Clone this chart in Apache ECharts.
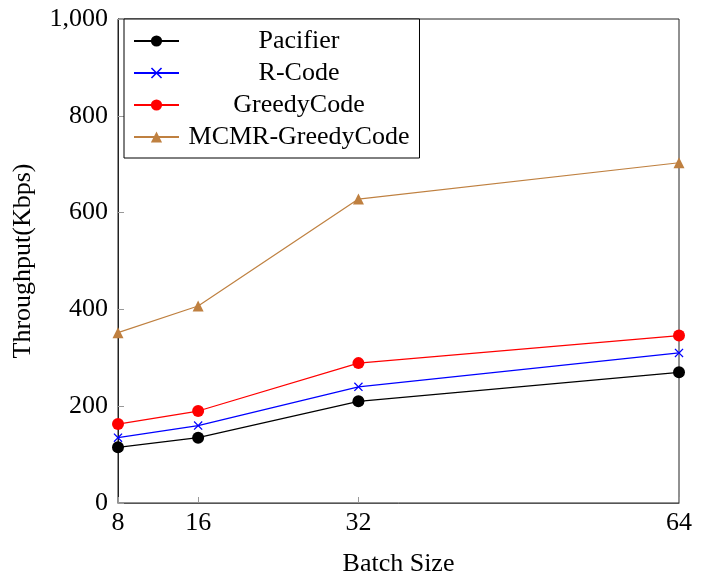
<!DOCTYPE html>
<html>
<head>
<meta charset="utf-8">
<script src="https://cdn.jsdelivr.net/npm/echarts@6/dist/echarts.min.js"></script>
<style>
html,body{margin:0;padding:0;background:#fff;}
#main{width:712px;height:579px;}
</style>
</head>
<body>
<div id="main"></div>
<script>
const batchSizes = [8, 16, 32, 64];
const xTicks = [8, 16, 32, 64];
const yTicks = [0, 200, 400, 600, 800, 1000];
const pacifier = [115, 135, 210, 270];
const rCode = [135, 160, 240, 310];
const greedyCode = [163, 190, 289, 346];
const mcmrGreedyCode = [352, 407, 628, 703];
const seriesNames = ['Pacifier', 'R-Code', 'GreedyCode', 'MCMR-GreedyCode'];

const FONT = 'Liberation Serif';
const FS = 26;
const crossPath = 'path://M0,1L1,0L5,4L9,0L10,1L6,5L10,9L9,10L5,6L1,10L0,9L4,5Z';

function pairs(vals) { return batchSizes.map((x, i) => [x, vals[i]]); }
function fmt(v) { return String(v).replace(/\B(?=(\d{3})+(?!\d))/g, ','); }

function mk(name, vals, color, symbol, size) {
  return {
    name: name, type: 'line', data: pairs(vals),
    symbol: symbol, symbolSize: size,
    lineStyle: { color: color, width: 1.2 },
    itemStyle: { color: color },
    emphasis: { disabled: true },
    animation: false
  };
}

const chart = echarts.init(document.getElementById('main'));
chart.setOption({
  backgroundColor: '#fff',
  animation: false,
  grid: { left: 118, right: 33, top: 19, bottom: 76, show: true, borderColor: '#222', borderWidth: 1,
    containLabel: false, outerBoundsMode: 'none' },
  legend: {
    orient: 'vertical', left: 124, top: 19,
    padding: [9, 10, 8, 9],
    borderColor: '#000', borderWidth: 1, backgroundColor: '#fff',
    itemWidth: 45, itemHeight: 14, itemGap: 6,
    data: seriesNames,
    formatter: '{c|{name}}',
    textStyle: { fontFamily: FONT, fontSize: FS, color: '#000',
      rich: { c: { width: 230, align: 'center', fontFamily: FONT, fontSize: FS, color: '#000' } } }
  },
  xAxis: {
    type: 'value', min: 8, max: 64,
    name: 'Batch Size', nameLocation: 'middle', nameGap: 48,
    nameTextStyle: { fontFamily: FONT, fontSize: FS, color: '#000' },
    axisLine: { show: true, lineStyle: { color: '#555', width: 1 } },
    axisTick: { show: true, inside: true, length: 6, customValues: xTicks, lineStyle: { color: '#999' } },
    axisLabel: { customValues: xTicks, fontFamily: FONT, fontSize: FS, color: '#000', margin: 7 },
    splitLine: { show: false }
  },
  yAxis: {
    type: 'value', min: 0, max: 1000, interval: 200,
    name: 'Throughput(Kbps)', nameLocation: 'middle', nameGap: 82,
    nameTextStyle: { fontFamily: FONT, fontSize: FS, color: '#000' },
    axisLine: { show: true, lineStyle: { color: '#222', width: 1 } },
    axisTick: { show: true, inside: true, length: 6, customValues: yTicks, lineStyle: { color: '#999' } },
    axisLabel: { customValues: yTicks, formatter: v => fmt(v), fontFamily: FONT, fontSize: FS, color: '#000', margin: 10 },
    splitLine: { show: false }
  },
  series: [
    mk(seriesNames[0], pacifier, '#000000', 'circle', 12),
    mk(seriesNames[1], rCode, '#0000ff', crossPath, 9),
    mk(seriesNames[2], greedyCode, '#ff0000', 'circle', 12),
    mk(seriesNames[3], mcmrGreedyCode, '#bf8040', 'triangle', 11)
  ]
});
</script>
</body>
</html>
